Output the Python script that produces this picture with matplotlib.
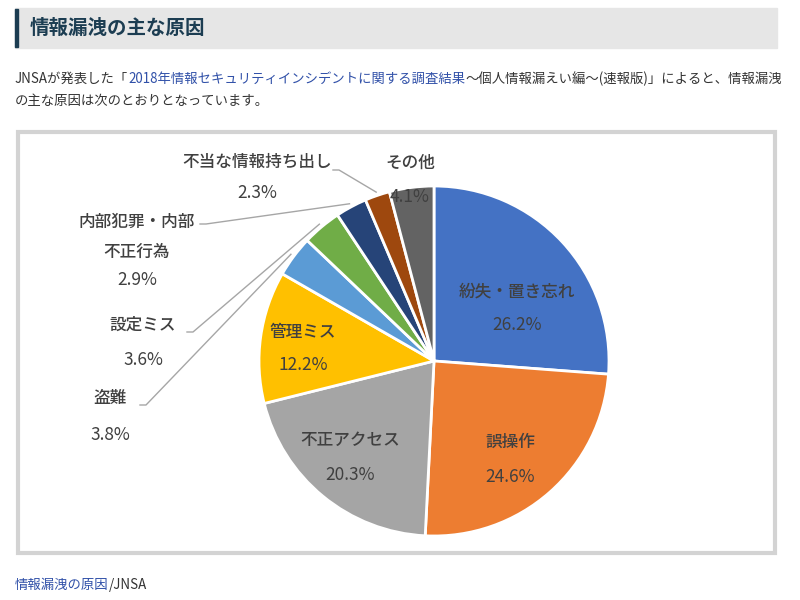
import matplotlib
matplotlib.use('Agg')
import numpy as np
import matplotlib.pyplot as plt
from matplotlib.patches import Rectangle

plt.rcParams['font.family'] = ['Noto Sans CJK JP', 'DejaVu Sans']

# data
causes = ['紛失・置き忘れ', '誤操作', '不正アクセス', '管理ミス', '盗難',
          '設定ミス', '内部犯罪・内部\n不正行為', '不当な情報持ち出し', 'その他']
shares = [26.2, 24.6, 20.3, 12.2, 3.8, 3.6, 2.9, 2.3, 4.1]
colors = ['#4472C4', '#ED7D31', '#A5A5A5', '#FFC000', '#5B9BD5',
          '#70AD47', '#264478', '#9E480E', '#636363']

title = '情報漏洩の主な原因'
intro1 = [('JNSAが発表した「', 'txt'),
          ('2018年情報セキュリティインシデントに関する調査結果', 'link'),
          ('〜個人情報漏えい編〜(速報版)」によると、情報漏洩', 'txt')]
intro2 = 'の主な原因は次のとおりとなっています。'
footer = [('情報漏洩の原因', 'link'), ('/JNSA', 'txt')]

H = 600
txt_col = '#333333'
link_col = '#3050a8'
lab_col = '#404040'

fig = plt.figure(figsize=(8, 6), dpi=100)
ax = fig.add_axes([0, 0, 1, 1])

# pie, centre and radius in pixels (y flipped)
cx, cy, rad = 434, H - 361, 175
wedges, _ = ax.pie(shares, colors=colors, startangle=90, counterclock=False,
                   center=(cx, cy), radius=rad,
                   wedgeprops=dict(edgecolor='white', linewidth=2))
ax.set_xlim(0, 800)
ax.set_ylim(0, H)
ax.set_aspect('equal')
ax.axis('off')

# header band
ax.add_patch(Rectangle((15, H - 48), 762, 40, color='#e6e6e6', zorder=0))
ax.add_patch(Rectangle((15, H - 47), 3, 38, color='#1c3d52', zorder=1))
ax.text(30, H - 28, title, fontsize=14, fontweight='bold', color='#1c3d52',
        va='center', ha='left')

# chart frame
ax.add_patch(Rectangle((18, H - 553), 757, 421, fill=False,
                       edgecolor='#d3d3d3', linewidth=3, zorder=0))

fig.canvas.draw()
rend = fig.canvas.get_renderer()


def run_text(parts, x, y, size):
    for s, kind in parts:
        t = ax.text(x, y, s, fontsize=size, va='center', ha='left',
                    color=link_col if kind == 'link' else txt_col)
        x += t.get_window_extent(renderer=rend).width


run_text(intro1, 15, H - 79, 9.6)
ax.text(15, H - 101, intro2, fontsize=9.6, va='center', ha='left', color=txt_col)
run_text(footer, 15, H - 585, 9.6)

# labels: (x, name y, pct y) in pixels
inside = {0: (517, 292, 325), 1: (510, 442, 477), 2: (350, 440, 475),
          3: (303, 332, 365), 8: (410, 163, 197)}
outside = {4: (110, 398, 435, (140, 405)),
           5: (143, 325, 360, (187, 332)),
           6: (137, 213, 280, (200, 224)),
           7: (257, 162, 193, (333, 170))}

for i, (x, yn, yp) in inside.items():
    ax.text(x, H - yn, causes[i], fontsize=12, color=lab_col, ha='center',
            va='center', fontweight='medium')
    ax.text(x, H - yp, f'{shares[i]}%', fontsize=12.5, color=lab_col,
            ha='center', va='center')

for i, (x, yn, yp, (lx, ly)) in outside.items():
    ax.text(x, H - yn, causes[i], fontsize=12, color=lab_col, ha='center',
            va='top' if '\n' in causes[i] else 'center',
            linespacing=1.85, fontweight='medium')
    ax.text(x, H - yp, f'{shares[i]}%', fontsize=12.5, color=lab_col,
            ha='center', va='center')
    w = wedges[i]
    th = np.deg2rad((w.theta1 + w.theta2) / 2)
    ex = cx + rad * 1.02 * np.cos(th)
    ey = cy + rad * 1.02 * np.sin(th)
    ax.plot([lx, lx + 6, ex], [H - ly, H - ly, ey], color='#a6a6a6', lw=1)

fig.savefig('out.png', dpi=100)
